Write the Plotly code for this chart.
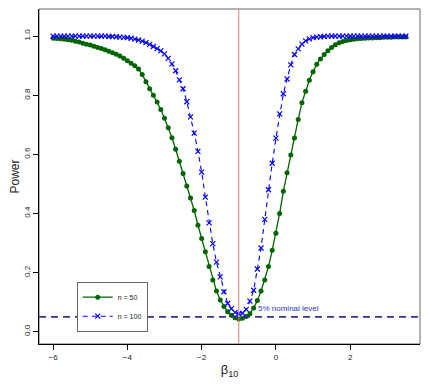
import plotly.graph_objects as go

# effect values on the x axis (beta_10), step 0.1 from -6 to 3.5
beta = [round(-6.0 + 0.1 * i, 1) for i in range(96)]

power_n50 = [
    0.993, 0.992, 0.991, 0.990, 0.988, 0.986, 0.983, 0.980, 0.976, 0.973,
    0.970, 0.966, 0.962, 0.958, 0.954, 0.949, 0.944, 0.939, 0.933, 0.925,
    0.917, 0.908, 0.900, 0.889, 0.870, 0.846, 0.822, 0.800, 0.777, 0.752,
    0.722, 0.690, 0.656, 0.617, 0.577, 0.535, 0.493, 0.452, 0.410, 0.360,
    0.315, 0.270, 0.220, 0.175, 0.137, 0.107, 0.085, 0.067, 0.055, 0.047,
    0.043, 0.045, 0.051, 0.060, 0.080, 0.105, 0.137, 0.175, 0.220, 0.275,
    0.333, 0.400, 0.475, 0.538, 0.598, 0.655, 0.718, 0.775, 0.814, 0.851,
    0.880, 0.905, 0.923, 0.938, 0.951, 0.962, 0.971, 0.978, 0.982, 0.985,
    0.988, 0.990, 0.991, 0.992, 0.993, 0.994, 0.994, 0.995, 0.995, 0.996,
    0.996, 0.996, 0.997, 0.997, 0.997, 0.997,
]

power_n100 = [
    1.000, 1.000, 1.000, 1.000, 1.000, 1.000, 1.000, 1.000, 1.000, 1.000,
    1.000, 1.000, 1.000, 1.000, 1.000, 0.999, 0.999, 0.998, 0.997, 0.996,
    0.995, 0.993, 0.990, 0.987, 0.983, 0.978, 0.972, 0.965, 0.958, 0.950,
    0.940, 0.925, 0.906, 0.883, 0.852, 0.822, 0.778, 0.727, 0.672, 0.610,
    0.540, 0.455, 0.368, 0.298, 0.235, 0.185, 0.135, 0.095, 0.078, 0.065,
    0.060, 0.062, 0.075, 0.103, 0.140, 0.212, 0.283, 0.380, 0.480, 0.570,
    0.655, 0.737, 0.805, 0.855, 0.903, 0.938, 0.957, 0.973, 0.984, 0.991,
    0.995, 0.997, 0.998, 0.999, 1.000, 1.000, 1.000, 1.000, 1.000, 1.000,
    1.000, 1.000, 1.000, 1.000, 1.000, 1.000, 1.000, 1.000, 1.000, 1.000,
    1.000, 1.000, 1.000, 1.000, 1.000, 1.000,
]

true_beta = -1.0
nominal = 0.05

font = "Liberation Sans, Arial, sans-serif"

fig = go.Figure()

fig.add_trace(go.Scatter(
    x=beta, y=power_n50, name="n = 50",
    mode="lines+markers",
    line=dict(color="#006400", width=1.3),
    marker=dict(symbol="circle", size=5, color="#006400"),
))

fig.add_trace(go.Scatter(
    x=beta, y=power_n100, name="n = 100",
    mode="lines+markers",
    line=dict(color="#0000FF", width=1.1, dash="5px,4px"),
    marker=dict(symbol="x-thin-open", size=5,
                line=dict(color="#0000FF", width=1.2)),
))

# true value and nominal level
fig.add_shape(type="line", xref="x", yref="paper", x0=true_beta, x1=true_beta,
              y0=0, y1=1, line=dict(color="#E07B7B", width=1))
fig.add_shape(type="line", xref="paper", yref="y", x0=0, x1=1,
              y0=nominal, y1=nominal,
              line=dict(color="#32328F", width=1.8, dash="7px,5px"))
# grey plot box
fig.add_shape(type="rect", xref="paper", yref="paper", x0=0, x1=1, y0=0, y1=1,
              line=dict(color="#666666", width=1), layer="below")

fig.add_annotation(x=0.33, y=0.079, text="5% nominal level", showarrow=False,
                   font=dict(family=font, size=8, color="#3333CC"))

# page body has an 8px margin, so the figure is a bit smaller than the window
fig.update_layout(
    width=421, height=380,
    margin=dict(l=31, r=9, t=1, b=44),
    paper_bgcolor="white", plot_bgcolor="white",
    font=dict(family=font, color="#222222"),
    showlegend=True,
    legend=dict(x=0.099, y=0.186, xanchor="left", yanchor="top",
                bordercolor="#666666", borderwidth=1, bgcolor="white",
                font=dict(size=7, family=font), itemwidth=30,
                tracegroupgap=0),
    xaxis=dict(
        range=[-6.38, 3.88], tickvals=[-6, -4, -2, 0, 2],
        showgrid=False, zeroline=False, automargin=False,
        showline=True, linecolor="black", linewidth=1,
        ticks="outside", ticklen=5, tickcolor="black",
        tickfont=dict(size=8),
        title=dict(text="β<sub>10</sub>", font=dict(size=13), standoff=4),
    ),
    yaxis=dict(
        range=[-0.042, 1.092], tickvals=[0, 0.2, 0.4, 0.6, 0.8, 1.0],
        tickformat=".1f", tickangle=-90,
        showgrid=False, zeroline=False, automargin=False,
        showline=True, linecolor="black", linewidth=1,
        ticks="outside", ticklen=5, tickcolor="black",
        tickfont=dict(size=8),
        title=dict(text="Power", font=dict(size=12), standoff=4),
    ),
)

fig.write_html("out.html")
